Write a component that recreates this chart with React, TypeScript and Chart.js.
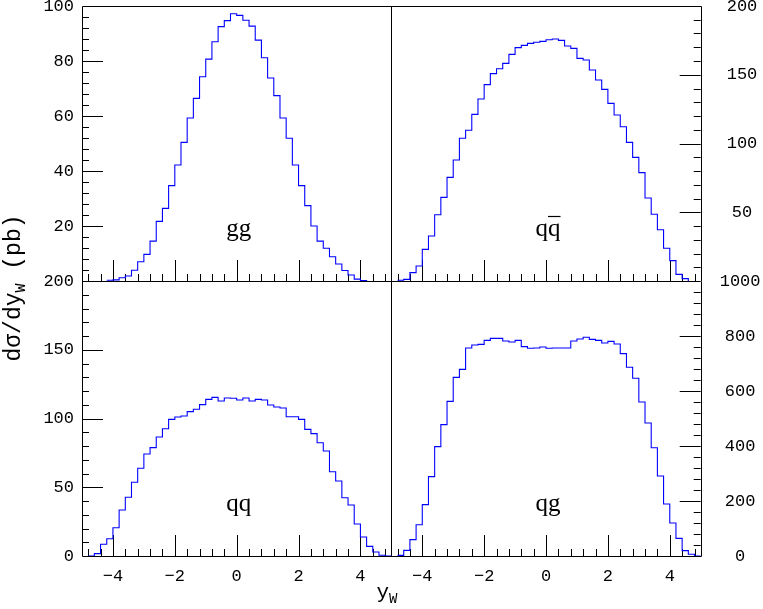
import { useEffect, useRef } from 'react';
import { Chart, registerables } from 'chart.js';

Chart.register(...registerables);

// bin edges of the y_W histograms (50 bins of width 0.2)
const binEdges = [
  -5, -4.8, -4.6, -4.4, -4.2, -4, -3.8, -3.6, -3.4, -3.2, -3, -2.8, -2.6, -2.4, -2.2, -2, -1.8,
  -1.6, -1.4, -1.2, -1, -0.8, -0.6, -0.4, -0.2, 0, 0.2, 0.4, 0.6, 0.8, 1, 1.2, 1.4, 1.6, 1.8, 2,
  2.2, 2.4, 2.6, 2.8, 3, 3.2, 3.4, 3.6, 3.8, 4, 4.2, 4.4, 4.6, 4.8, 5,
];

// gg (top left, pb)
const ggValues = [
  null, null, null, null, 0.3, 0.4, 1.2, 1.8, 3.9, 7.0, 9.7, 14.5, 21.7, 26.4, 34.7, 42.2, 50.4,
  59.3, 66.4, 74.3, 80.7, 87.0, 92.5, 94.7, 97.2, 96.6, 94.8, 92.7, 87.6, 81.2, 73.8, 67.4, 59.3,
  51.9, 42.2, 34.7, 27.4, 20.0, 14.5, 11.9, 8.8, 6.2, 3.8, 2.2, 0.7, 0.2, null, null, null, null,
];

// q qbar (top right, pb)
const qqbarValues = [
  null, 0.5, 1.2, 6.1, 10.9, 23.0, 32.7, 48.2, 60.8, 75.4, 88.0, 103.8, 109.6, 121.2, 132.4,
  142.8, 150.8, 154.4, 158.3, 164.8, 169.7, 171.4, 172.8, 173.6, 174.3, 175.5, 176.0, 175.0,
  170.9, 169.2, 161.9, 160.7, 153.5, 146.2, 139.4, 129.2, 120.7, 112.2, 100.8, 89.9, 78.8, 60.4,
  48.5, 37.3, 23.8, 14.8, 4.8, 1.7, null, null,
];

// qq (bottom left, pb)
const qqValues = [
  null, 0, 1.7, 8.5, 12.6, 20.6, 33.5, 42.7, 53.6, 63.8, 74.2, 78.8, 86.5, 92.6, 99.4, 101.1,
  101.8, 105.0, 106.7, 110.1, 113.9, 115.4, 112.7, 114.9, 114.7, 113.5, 114.9, 112.7, 113.9,
  113.5, 109.8, 108.4, 107.6, 101.3, 101.3, 99.4, 92.1, 89.0, 82.4, 76.4, 61.3, 54.5, 42.4, 37.1,
  23.3, 13.8, 7.0, 2.9, 0.5, 0,
];

// qg (bottom right, pb)
const qgValues = [
  null, 2.4, 20.6, 59.4, 113.9, 186.7, 288.5, 397.6, 477.6, 562.4, 649.7, 678.8, 756.4, 767.3,
  769.7, 784.2, 791.5, 791.5, 781.8, 778.2, 784.2, 761.2, 755.2, 756.4, 760.0, 755.2, 756.4,
  756.4, 756.4, 781.8, 789.1, 795.2, 787.9, 784.2, 774.5, 780.6, 770.9, 735.8, 686.1, 646.1,
  560.0, 483.6, 393.9, 290.9, 189.1, 120.0, 64.2, 19.4, 6.1, 0,
];

// tick labels
const xTickLabels = [-4, -2, 0, 2, 4];
const yTicksTL = [20, 40, 60, 80, 100];
const yTicksBL = [0, 50, 100, 150, 200];
const yTicksTR = [50, 100, 150, 200];
const yTicksBR = [0, 200, 400, 600, 800, 1000];

const panelLabels = ['gg', 'qq\u0304', 'qq', 'qg'];

const RIGHT_SHIFT = 10; // right panels live at x+10 on the shared x axis
const LINE_COLOR = '#0000ff';
const TICK_FONT = { family: '"Liberation Mono", monospace', size: 17 };

function toSteps(vals: (number | null)[], shift: number) {
  const pts: { x: number; y: number | null }[] = [];
  for (let i = 0; i < binEdges.length; i++) {
    const v = i < vals.length ? vals[i] : null;
    const prev = i > 0 ? vals[i - 1] : null;
    let y = v;
    if (y == null && prev != null) y = 0;
    pts.push({ x: binEdges[i] + shift, y });
  }
  return pts;
}

function fmt(v: number) {
  return v < 0 ? '\u2212' + Math.abs(v) : String(v);
}

const tickSpec: Record<string, { major: number; minor: number; side: 'left' | 'right' }> = {
  yTL: { major: 20, minor: 4, side: 'left' },
  yBL: { major: 50, minor: 10, side: 'left' },
  yTR: { major: 50, minor: 10, side: 'right' },
  yBR: { major: 200, minor: 40, side: 'right' },
};
const X_MAJOR = 2;
const X_MINOR = 0.4;
const MAJOR_LEN = 21;
const MINOR_LEN = 7;

const isMult = (v: number, step: number) => Math.abs(v / step - Math.round(v / step)) < 1e-6;
const px = (v: number) => Math.round(v) + 0.5;

const decor = {
  id: 'decor',
  beforeDatasetsDraw(chart: any) {
    const ctx = chart.ctx as CanvasRenderingContext2D;
    const a = chart.chartArea;
    const xs = chart.scales.x;
    const tl = chart.scales.yTL;
    ctx.save();
    ctx.strokeStyle = '#000';
    ctx.lineWidth = 1;
    ctx.beginPath();
    // frame
    ctx.rect(px(a.left), px(a.top), Math.round(a.right) - Math.round(a.left), Math.round(a.bottom) - Math.round(a.top));
    // dividers
    const midX = px(xs.getPixelForValue(5));
    ctx.moveTo(midX, a.top);
    ctx.lineTo(midX, a.bottom);
    const midY = px(tl.bottom);
    ctx.moveTo(a.left, midY);
    ctx.lineTo(a.right, midY);
    ctx.stroke();

    // y ticks (inward)
    ctx.beginPath();
    for (const id of Object.keys(tickSpec)) {
      const s = chart.scales[id];
      const spec = tickSpec[id];
      const n = Math.round(s.max / spec.minor);
      for (let k = 1; k < n; k++) {
        const v = k * spec.minor;
        const y = px(s.getPixelForValue(v));
        const len = isMult(v, spec.major) ? MAJOR_LEN : MINOR_LEN;
        if (spec.side === 'left') {
          ctx.moveTo(a.left, y);
          ctx.lineTo(a.left + len, y);
        } else {
          ctx.moveTo(a.right, y);
          ctx.lineTo(a.right - len, y);
        }
      }
    }
    // x ticks (inward, at bottom of each row)
    const rows = [tl.bottom, a.bottom];
    for (const shift of [0, RIGHT_SHIFT]) {
      for (let k = -12; k <= 12; k++) {
        const v = k * X_MINOR;
        const x = px(xs.getPixelForValue(v + shift));
        const len = isMult(v, X_MAJOR) ? MAJOR_LEN : MINOR_LEN;
        for (const yb of rows) {
          ctx.moveTo(x, yb);
          ctx.lineTo(x, yb - len);
        }
      }
    }
    ctx.stroke();
    ctx.restore();
  },
  afterDraw(chart: any) {
    const ctx = chart.ctx as CanvasRenderingContext2D;
    const a = chart.chartArea;
    const xs = chart.scales.x;
    const tl = chart.scales.yTL;
    ctx.save();
    ctx.fillStyle = '#000';
    ctx.strokeStyle = '#000';

    // panel labels
    const pfont = '25px "Liberation Serif", serif';
    ctx.font = pfont;
    ctx.textAlign = 'left';
    ctx.textBaseline = 'alphabetic';
    const spots = [
      { text: 'gg', shift: 0, bottom: tl.bottom, bar: false },
      { text: 'qq', shift: RIGHT_SHIFT, bottom: tl.bottom, bar: true },
      { text: 'qq', shift: 0, bottom: a.bottom, bar: false },
      { text: 'qg', shift: RIGHT_SHIFT, bottom: a.bottom, bar: false },
    ];
    spots.forEach((s, i) => {
      const label = panelLabels[i].replace('\u0304', '');
      const w = ctx.measureText(label).width;
      const cx = xs.getPixelForValue(s.shift) + 2;
      const base = s.bottom - 45;
      ctx.fillText(label, cx - w / 2, base);
      if (s.bar) {
        const wq = ctx.measureText('q').width;
        const x1 = cx + w / 2 - wq;
        ctx.beginPath();
        ctx.lineWidth = 1.2;
        ctx.moveTo(x1, base - 19.5);
        ctx.lineTo(cx + w / 2, base - 19.5);
        ctx.stroke();
      }
    });

    // y axis title: dσ/dy_W (pb)
    const big = '23px "Liberation Mono", monospace';
    const small = '15px "Liberation Mono", monospace';
    ctx.translate(20, 288);
    ctx.rotate(-Math.PI / 2);
    ctx.font = big;
    const w1 = ctx.measureText('d\u03c3/dy').width;
    const w3 = ctx.measureText(' (pb)').width;
    ctx.font = small;
    const w2 = ctx.measureText('W').width;
    let x0 = -(w1 + w2 + w3) / 2;
    ctx.font = big;
    ctx.fillText('d\u03c3/dy', x0, 0);
    ctx.font = small;
    ctx.fillText('W', x0 + w1, 5);
    ctx.font = big;
    ctx.fillText(' (pb)', x0 + w1 + w2, 0);
    ctx.setTransform(1, 0, 0, 1, 0, 0);

    // x axis title: y_W
    const xb = '21px "Liberation Mono", monospace';
    const xsm = '14px "Liberation Mono", monospace';
    ctx.font = xb;
    const wy = ctx.measureText('y').width;
    ctx.font = xsm;
    const ww = ctx.measureText('W').width;
    const cxT = 387;
    ctx.font = xb;
    ctx.fillText('y', cxT - (wy + ww) / 2, 598);
    ctx.font = xsm;
    ctx.fillText('W', cxT - (wy + ww) / 2 + wy, 603);
    ctx.restore();
  },
};

function yScale(
  position: 'left' | 'right',
  stack: string,
  max: number,
  ticks: number[],
  width: number,
  padding: number,
  crossAlign: 'near' | 'center',
) {
  return {
    type: 'linear',
    position,
    stack,
    stackWeight: 1,
    min: 0,
    max,
    grid: { display: false, drawTicks: false },
    border: { display: false },
    ticks: {
      font: TICK_FONT,
      color: '#000',
      padding,
      crossAlign,
      autoSkip: false,
      callback: (v: number) => fmt(v),
    },
    afterBuildTicks: (s: any) => {
      s.ticks = ticks.map((v) => ({ value: v }));
    },
    afterFit: (s: any) => {
      s.width = width;
      s.paddingTop = 0;
      s.paddingBottom = 0;
    },
  };
}

export default function App() {
  const ref = useRef<HTMLCanvasElement>(null);
  useEffect(() => {
    const canvas = ref.current;
    if (!canvas) return;
    const ds = (vals: (number | null)[], shift: number, yAxisID: string, label: string) => ({
      label,
      data: toSteps(vals, shift),
      xAxisID: 'x',
      yAxisID,
      borderColor: LINE_COLOR,
      borderWidth: 1.1,
      pointRadius: 0,
      fill: false,
      stepped: 'before' as const,
      spanGaps: false,
    });
    const xTicks = [...xTickLabels, ...xTickLabels.map((v) => v + RIGHT_SHIFT)];
    const chart = new Chart(canvas, {
      type: 'line',
      data: {
        datasets: [
          ds(ggValues, 0, 'yTL', 'gg'),
          ds(qqbarValues, RIGHT_SHIFT, 'yTR', 'qqbar'),
          ds(qqValues, 0, 'yBL', 'qq'),
          ds(qgValues, RIGHT_SHIFT, 'yBR', 'qg'),
        ],
      },
      options: {
        animation: false,
        responsive: false,
        events: [],
        layout: { padding: { top: 6, left: 0, right: 0, bottom: 0 } },
        plugins: {
          legend: { display: false },
          tooltip: { enabled: false },
          title: { display: false },
        },
        scales: {
          x: {
            type: 'linear',
            position: 'bottom',
            min: -5,
            max: 5 + RIGHT_SHIFT,
            grid: { display: false, drawTicks: false },
            border: { display: false },
            ticks: {
              font: TICK_FONT,
              color: '#000',
              padding: 10,
              autoSkip: false,
              maxRotation: 0,
              callback: (v: number) => fmt(v > 5 ? v - RIGHT_SHIFT : v),
            },
            afterBuildTicks: (s: any) => {
              s.ticks = xTicks.map((v) => ({ value: v }));
            },
            afterFit: (s: any) => {
              s.height = 53;
              s.paddingLeft = 0;
              s.paddingRight = 0;
            },
          },
          yBL: yScale('left', 'L', 200, yTicksBL, 82, 8, 'near'),
          yTL: yScale('left', 'L', 100, yTicksTL, 82, 8, 'near'),
          yTR: yScale('right', 'R', 200, yTicksTR, 62.3, 26, 'center'),
          yBR: yScale('right', 'R', 1000, yTicksBR, 62.3, 19, 'center'),
        } as any,
      },
      plugins: [decor],
    });
    return () => chart.destroy();
  }, []);
  return (
    <div style={{ position: 'fixed', left: 0, top: 0, width: 763, height: 609, background: '#fff' }}>
      <canvas ref={ref} width={763} height={609} style={{ display: 'block' }} />
    </div>
  );
}
